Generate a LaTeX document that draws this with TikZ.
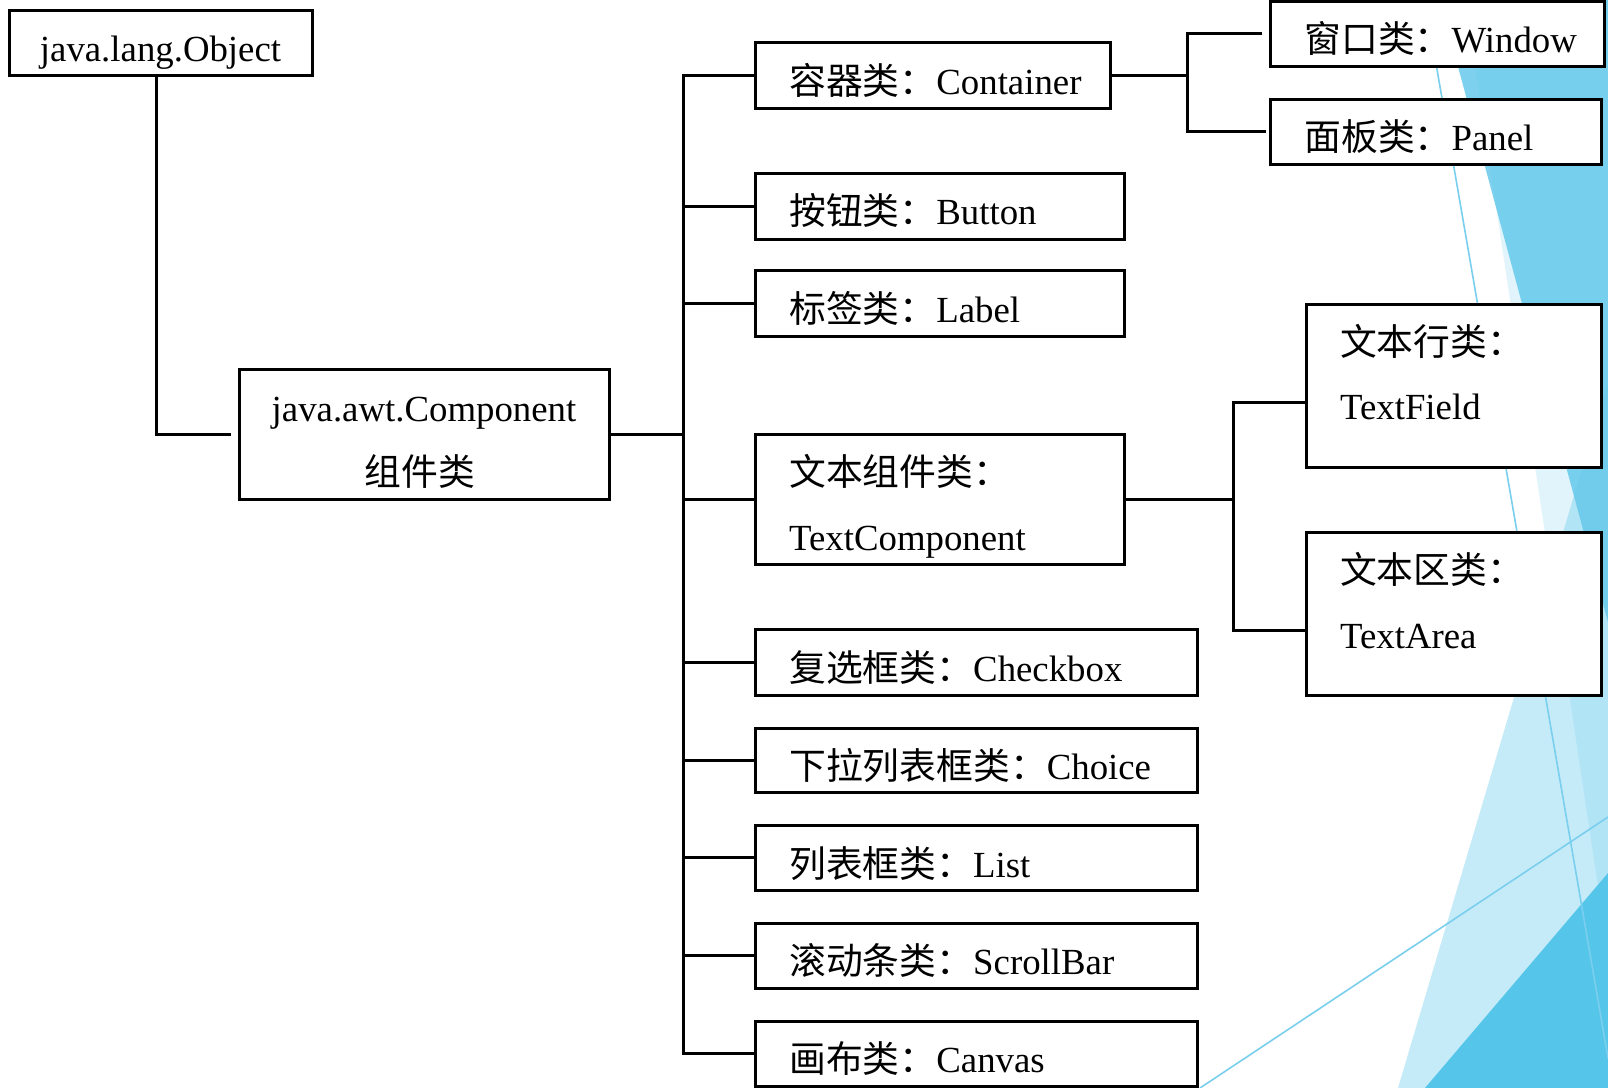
\documentclass[tikz,border=0pt]{standalone}
\usepackage{fontspec}
\setmainfont{Liberation Serif}
\newfontfamily\cjk{Noto Sans CJK SC}
\usetikzlibrary{calc,fit}
\definecolor{facetline}{HTML}{7ACFEE}
\definecolor{facetpale}{HTML}{C5EBF8}
\definecolor{facetdeep}{HTML}{55C5EA}
\definecolor{facetmid}{HTML}{6CCBEC}
\definecolor{facetsoft}{HTML}{5BC6EA}
\begin{document}
\begin{tikzpicture}[x=0.5pt,y=-0.5pt,
  box/.style={draw=black,line width=1.5pt,fill=white,inner sep=0pt,outer sep=0pt},
  conn/.style={draw=black,line width=1.5pt},
  txt/.style={inner sep=0pt,anchor=base west,font=\fontsize{18.4pt}{22pt}\selectfont},
  deco/.style={draw=facetline,line width=0.8pt}]

% canvas
\fill[white] (0,0) rectangle (1608,1088);
\useasboundingbox (0,0) rectangle (1608,1088);

% faceted background on the right edge
\fill[facetpale] (1398,1088) -- (1608,381) -- (1608,1088) -- cycle;
\fill[facetdeep] (1425,1088) -- (1608,873) -- (1608,1088) -- cycle;
\fill[facetmid,opacity=0.88] (1440,0) -- (1608,0) -- (1608,622) -- cycle;
\fill[facetsoft,opacity=0.18] (1465,0) -- (1608,0) -- (1608,953) -- cycle;
\draw[deco] (1425,0) -- (1608,1058);
\draw[deco] (1200,1088) -- (1608,817);

% class boxes
\node[box,fit={(9,10) (312,75)}] (object) {};
\node[box,fit={(239,369) (609,499.5)}] (component) {};
\node[box,fit={(755.8,42.7) (1110,108)}] (container) {};
\node[box,fit={(755.8,173.3) (1124,239)}] (button) {};
\node[box,fit={(755.8,270.7) (1124,336.5)}] (label) {};
\node[box,fit={(755.8,434.8) (1124,564)}] (textcomp) {};
\node[box,fit={(755.8,629.7) (1197,695.3)}] (checkbox) {};
\node[box,fit={(755.8,728) (1197,792.7)}] (choice) {};
\node[box,fit={(755.8,825.5) (1197,890)}] (list) {};
\node[box,fit={(755.8,923) (1197,988.6)}] (scrollbar) {};
\node[box,fit={(755.8,1021.4) (1197,1086)}] (canvas) {};
\node[box,fit={(1270,1.5) (1604,66)}] (window) {};
\node[box,fit={(1270,99) (1601,164)}] (panel) {};
\node[box,fit={(1306.7,304) (1601,467)}] (textfield) {};
\node[box,fit={(1306.7,532.5) (1601,695)}] (textarea) {};

% junction columns
\coordinate (tk) at (683,0);
\coordinate (j1) at (1187.7,0);
\coordinate (j2) at (1233,0);

% connectors
\draw[conn] ([xshift=-1.8pt]object.south) |- ([xshift=-4.2pt]component.west);
\draw[conn] (component.east) -- (component.east -| tk);
\draw[conn] (container.west) -- (container.west -| tk) -- (canvas.west -| tk) -- (canvas.west);
\foreach \n in {button,label,textcomp,checkbox,choice,list,scrollbar}
  \draw[conn] (\n.west -| tk) -- (\n.west);
\draw[conn] (container.east) -- (container.east -| j1);
\draw[conn] ([xshift=-3.85pt]window.west) -| (panel.west -| j1) -- ([xshift=-2.15pt]panel.west);
\draw[conn] (textcomp.east) -- (textcomp.east -| j2);
\draw[conn] ([yshift=-8.25pt]textfield.west) -| ([yshift=-8.2pt]textarea.west -| j2) -- ([yshift=-8.2pt]textarea.west);

% labels
\node[txt,anchor=base] (t-object) at ($(object.north)+(0,51.5)$) {java.lang.Object};
\node[txt,anchor=base] (t-comp1) at ($(component.north)+(0,52)$) {java.awt.Component};
\node[txt,anchor=base] (t-comp2) at ($(component.north)+(-4,116)$) {\cjk 组件类};
\node[txt] (t-container) at ($(container.north west)+(33,51.5)$) {{\cjk 容器类：}Container};
\node[txt] (t-button) at ($(button.north west)+(33,51.5)$) {{\cjk 按钮类：}Button};
\node[txt] (t-label) at ($(label.north west)+(33,51.5)$) {{\cjk 标签类：}Label};
\node[txt] (t-textcomp1) at ($(textcomp.north west)+(33,51)$) {\cjk 文本组件类：};
\node[txt] (t-textcomp2) at ($(textcomp.north west)+(33,115.5)$) {TextComponent};
\node[txt] (t-checkbox) at ($(checkbox.north west)+(33,51.5)$) {{\cjk 复选框类：}Checkbox};
\node[txt] (t-choice) at ($(choice.north west)+(33,51.5)$) {{\cjk 下拉列表框类：}Choice};
\node[txt] (t-list) at ($(list.north west)+(33,51.5)$) {{\cjk 列表框类：}List};
\node[txt] (t-scrollbar) at ($(scrollbar.north west)+(33,51.5)$) {{\cjk 滚动条类：}ScrollBar};
\node[txt] (t-canvas) at ($(canvas.north west)+(33,51.5)$) {{\cjk 画布类：}Canvas};
\node[txt] (t-window) at ($(window.north west)+(34,51)$) {{\cjk 窗口类：}Window};
\node[txt] (t-panel) at ($(panel.north west)+(34,51)$) {{\cjk 面板类：}Panel};
\node[txt] (t-textfield1) at ($(textfield.north west)+(33,51)$) {\cjk 文本行类：};
\node[txt] (t-textfield2) at ($(textfield.north west)+(33,115.5)$) {TextField};
\node[txt] (t-textarea1) at ($(textarea.north west)+(33,51)$) {\cjk 文本区类：};
\node[txt] (t-textarea2) at ($(textarea.north west)+(33,115.5)$) {TextArea};
\end{tikzpicture}
\end{document}
